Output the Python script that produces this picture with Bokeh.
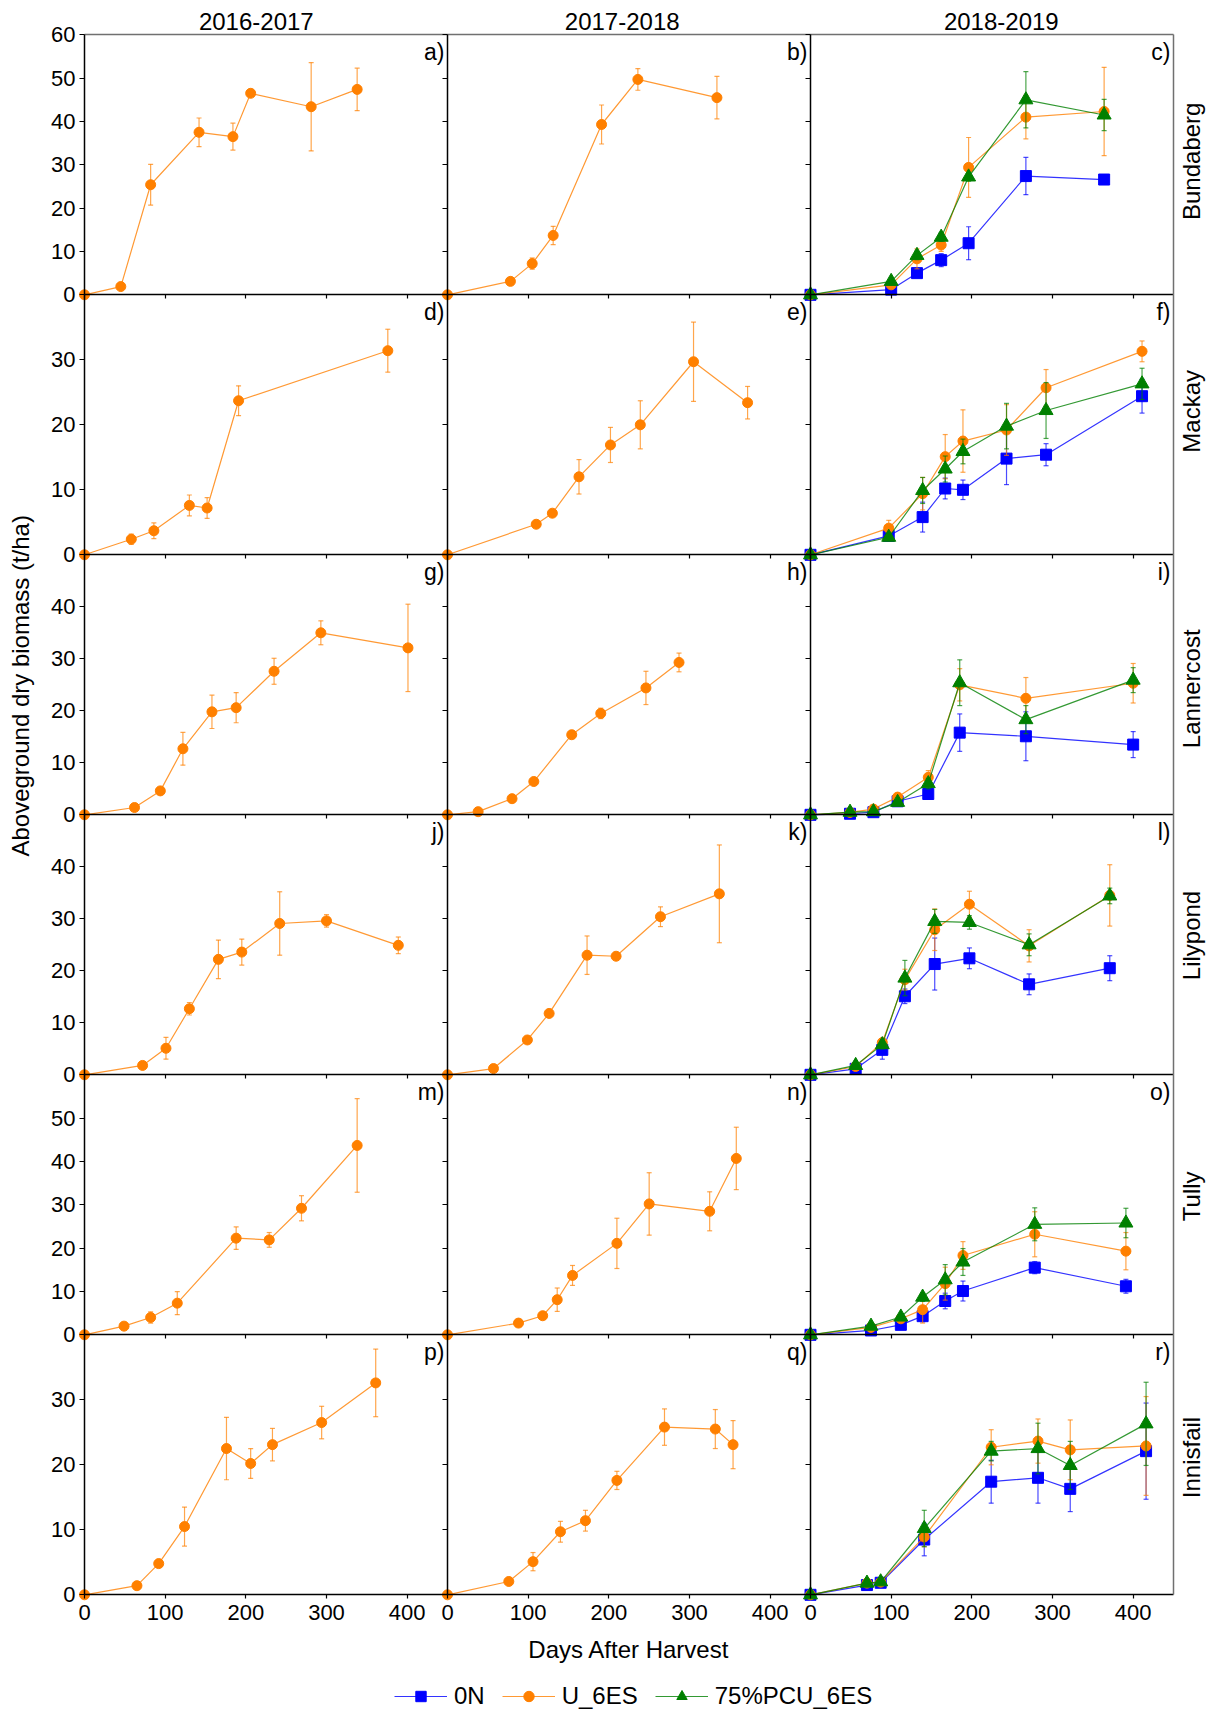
import math
from bokeh.plotting import figure
from bokeh.models import (Range1d, LinearAxis, FixedTicker, Label, Legend,
                          LegendItem, ColumnDataSource)
from bokeh.embed import file_html
from bokeh.resources import INLINE

FONT = "Liberation Sans"

# ---------------- labels / axes ----------------
seasons = ["2016-2017", "2017-2018", "2018-2019"]
sites = ["Bundaberg", "Mackay", "Lannercost", "Lilypond", "Tully", "Innisfail"]
panel_letters = ["a)", "b)", "c)", "d)", "e)", "f)", "g)", "h)", "i)",
                 "j)", "k)", "l)", "m)", "n)", "o)", "p)", "q)", "r)"]
treatments = ["0N", "U_6ES", "75%PCU_6ES"]
y_max = [60, 40, 50, 50, 60, 40]
y_ticks = [[0, 10, 20, 30, 40, 50, 60], [0, 10, 20, 30], [0, 10, 20, 30, 40],
           [0, 10, 20, 30, 40], [0, 10, 20, 30, 40, 50], [0, 10, 20, 30]]
x_max = 450
x_ticks = [0, 100, 200, 300, 400]

# ---------------- data (days after harvest, biomass t/ha, error) ----------------
# Bundaberg
a_days = [0, 45, 82, 142, 184, 206, 281, 338]
a_u = [0, 1.9, 25.4, 37.5, 36.5, 46.5, 43.4, 47.4]
a_u_err = [0, 0.3, 4.7, 3.3, 3.1, 0.5, 10.2, 4.9]

b_days = [0, 78, 105, 131, 191, 236, 334]
b_u = [0, 3.1, 7.2, 13.7, 39.3, 49.7, 45.5]
b_u_err = [0, 0.3, 1.3, 2.1, 4.5, 2.5, 4.9]

c_days = [0, 100, 132, 162, 196, 267, 364]
c_0n = [0, 1.2, 5.0, 8.0, 11.9, 27.4, 26.6]
c_0n_err = [0, 0.3, 0.5, 1.5, 3.8, 4.3, 0.5]
c_u = [0, 2.3, 8.3, 11.5, 29.4, 41.0, 42.3]
c_u_err = [0, 0.5, 2.3, 1.5, 6.9, 5.0, 10.2]
c_pcu = [0, 3.1, 9.1, 13.3, 27.2, 45.0, 41.5]
c_pcu_err = [0, 0.5, 1.0, 1.0, 1.0, 6.5, 3.6]

# Mackay
d_days = [0, 58, 86, 130, 152, 191, 376]
d_u = [0, 2.4, 3.7, 7.6, 7.2, 23.7, 31.4]
d_u_err = [0, 0.8, 1.2, 1.6, 1.6, 2.3, 3.3]

e_days = [0, 110, 130, 163, 202, 239, 305, 372]
e_u = [0, 4.7, 6.4, 12.0, 16.9, 20.0, 29.7, 23.4]
e_u_err = [0, 0.5, 0.5, 2.65, 2.7, 3.7, 6.1, 2.5]

f_days = [0, 97, 139, 167, 189, 243, 292, 411]
f_0n = [0, 2.9, 5.8, 10.2, 10.0, 14.8, 15.4, 24.4]
f_0n_err = [0, 0.4, 2.3, 1.6, 1.5, 4.0, 1.7, 2.6]
f_u = [0, 4.1, 9.4, 15.1, 17.5, 19.2, 25.7, 31.3]
f_u_err = [0, 1.2, 2.5, 3.4, 4.8, 3.9, 2.8, 1.6]
f_pcu = [0, 2.7, 9.9, 13.2, 15.9, 19.8, 22.2, 26.3]
f_pcu_err = [0, 0.5, 2.0, 2.0, 1.9, 3.5, 4.3, 2.4]

# Lannercost
g_days = [0, 62, 94, 122, 158, 188, 235, 293, 401]
g_u = [0, 1.4, 4.6, 12.7, 19.8, 20.6, 27.6, 35.0, 32.1]
g_u_err = [0, 0.3, 0.5, 3.15, 3.2, 2.9, 2.5, 2.3, 8.4]

h_days = [0, 38, 80, 107, 154, 190, 246, 287]
h_u = [0, 0.6, 3.1, 6.4, 15.4, 19.5, 24.4, 29.3]
h_u_err = [0, 0.2, 0.3, 0.4, 0.75, 1.0, 3.2, 1.8]

i_days = [0, 49, 78, 108, 146, 185, 267, 400]
i_0n = [0, 0.2, 0.5, 2.6, 4.0, 15.8, 15.1, 13.5]
i_0n_err = [0, 0.1, 0.2, 0.5, 1.0, 3.6, 4.7, 2.5]
i_u = [0, 0.45, 1.1, 3.4, 7.2, 25.0, 22.4, 25.3]
i_u_err = [0, 0.1, 0.3, 0.5, 1.3, 3.1, 4.0, 3.8]
i_pcu = [0, 0.5, 0.6, 2.4, 6.0, 25.4, 18.3, 25.9]
i_pcu_err = [0, 0.1, 0.2, 0.5, 1.0, 4.4, 2.7, 2.4]

# Lilypond
j_days = [0, 72, 101, 130, 166, 195, 242, 300, 389]
j_u = [0, 1.8, 5.1, 12.7, 22.2, 23.6, 29.1, 29.6, 24.9]
j_u_err = [0, 0.3, 2.1, 1.2, 3.7, 2.5, 6.1, 1.2, 1.6]

k_days = [0, 57, 99, 126, 173, 209, 264, 337]
k_u = [0, 1.2, 6.7, 11.8, 23.0, 22.8, 30.4, 34.8]
k_u_err = [0, 0.2, 0.3, 0.4, 3.7, 0.6, 1.9, 9.4]

l_days = [0, 56, 89, 117, 154, 197, 271, 371]
l_0n = [0, 1.15, 4.8, 15.1, 21.3, 22.4, 17.4, 20.5]
l_0n_err = [0, 0.3, 1.8, 1.4, 5.0, 2.0, 2.0, 2.4]
l_u = [0, 1.6, 6.2, 18.3, 27.9, 32.8, 24.8, 34.5]
l_u_err = [0, 0.3, 0.6, 2.0, 4.0, 2.5, 3.1, 5.9]
l_pcu = [0, 1.8, 5.8, 18.6, 29.5, 29.3, 25.0, 34.4]
l_pcu_err = [0, 0.3, 0.8, 3.4, 2.3, 1.3, 2.1, 1.5]

# Tully
m_days = [0, 49, 82, 115, 188, 229, 269, 338]
m_u = [0, 2.0, 4.0, 7.3, 22.3, 21.9, 29.2, 43.7]
m_u_err = [0, 0.3, 1.3, 2.65, 2.6, 1.7, 2.9, 10.8]

n_days = [0, 88, 118, 136, 155, 210, 250, 325, 358]
n_u = [0, 2.7, 4.4, 8.1, 13.7, 21.1, 30.2, 28.5, 40.7]
n_u_err = [0, 0.3, 0.7, 2.7, 2.3, 5.8, 7.2, 4.5, 7.2]

o_days = [0, 75, 112, 139, 167, 189, 278, 391]
o_0n = [0, 1.0, 2.3, 4.3, 7.8, 10.1, 15.5, 11.2]
o_0n_err = [0, 0.3, 0.5, 1.3, 1.8, 2.3, 1.4, 1.6]
o_u = [0, 1.7, 3.7, 5.8, 11.8, 18.3, 23.2, 19.3]
o_u_err = [0, 0.3, 0.5, 3.1, 3.8, 3.2, 5.2, 4.3]
o_pcu = [0, 2.0, 4.1, 8.7, 12.7, 16.8, 25.5, 25.8]
o_pcu_err = [0, 0.3, 0.5, 1.0, 3.5, 3.1, 3.8, 3.4]

# Innisfail
p_days = [0, 65, 92, 124, 176, 206, 233, 294, 361]
p_u = [0, 1.4, 4.8, 10.5, 22.5, 20.2, 23.1, 26.5, 32.6]
p_u_err = [0, 0.2, 0.5, 3.0, 4.8, 2.3, 2.5, 2.5, 5.2]

q_days = [0, 76, 106, 140, 171, 210, 269, 332, 354]
q_u = [0, 2.05, 5.1, 9.7, 11.4, 17.6, 25.8, 25.5, 23.1]
q_u_err = [0, 0.2, 1.4, 1.6, 1.6, 1.4, 2.8, 3.0, 3.7]

r_days = [0, 70, 87, 141, 224, 282, 322, 416]
r_0n = [0, 1.5, 1.85, 8.5, 17.4, 18.0, 16.3, 22.1]
r_0n_err = [0, 0.5, 0.3, 2.5, 3.3, 3.9, 3.5, 7.4]
r_u = [0, 1.8, 1.95, 8.9, 22.7, 23.65, 22.3, 22.9]
r_u_err = [0, 0.3, 0.3, 1.5, 2.7, 3.4, 4.6, 7.6]
r_pcu = [0, 1.8, 2.0, 10.2, 22.1, 22.5, 19.9, 26.3]
r_pcu_err = [0, 0.3, 0.3, 2.8, 1.5, 3.9, 3.7, 6.4]

panels = {
    (0, 0): {"U_6ES": (a_days, a_u, a_u_err)},
    (0, 1): {"U_6ES": (b_days, b_u, b_u_err)},
    (0, 2): {"0N": (c_days, c_0n, c_0n_err), "U_6ES": (c_days, c_u, c_u_err),
             "75%PCU_6ES": (c_days, c_pcu, c_pcu_err)},
    (1, 0): {"U_6ES": (d_days, d_u, d_u_err)},
    (1, 1): {"U_6ES": (e_days, e_u, e_u_err)},
    (1, 2): {"0N": (f_days, f_0n, f_0n_err), "U_6ES": (f_days, f_u, f_u_err),
             "75%PCU_6ES": (f_days, f_pcu, f_pcu_err)},
    (2, 0): {"U_6ES": (g_days, g_u, g_u_err)},
    (2, 1): {"U_6ES": (h_days, h_u, h_u_err)},
    (2, 2): {"0N": (i_days, i_0n, i_0n_err), "U_6ES": (i_days, i_u, i_u_err),
             "75%PCU_6ES": (i_days, i_pcu, i_pcu_err)},
    (3, 0): {"U_6ES": (j_days, j_u, j_u_err)},
    (3, 1): {"U_6ES": (k_days, k_u, k_u_err)},
    (3, 2): {"0N": (l_days, l_0n, l_0n_err), "U_6ES": (l_days, l_u, l_u_err),
             "75%PCU_6ES": (l_days, l_pcu, l_pcu_err)},
    (4, 0): {"U_6ES": (m_days, m_u, m_u_err)},
    (4, 1): {"U_6ES": (n_days, n_u, n_u_err)},
    (4, 2): {"0N": (o_days, o_0n, o_0n_err), "U_6ES": (o_days, o_u, o_u_err),
             "75%PCU_6ES": (o_days, o_pcu, o_pcu_err)},
    (5, 0): {"U_6ES": (p_days, p_u, p_u_err)},
    (5, 1): {"U_6ES": (q_days, q_u, q_u_err)},
    (5, 2): {"0N": (r_days, r_0n, r_0n_err), "U_6ES": (r_days, r_u, r_u_err),
             "75%PCU_6ES": (r_days, r_pcu, r_pcu_err)},
}

# ---------------- styling ----------------
styles = {
    "0N": dict(color="#0000FF", marker="square", size=11),
    "U_6ES": dict(color="#FF8000", marker="circle", size=10),
    "75%PCU_6ES": dict(color="#008000", marker="triangle", size=14),
}

W, H = 1211, 1711                 # canvas (the frame fills it entirely)
NROWS, NCOLS = 6, 3
PW, PH = 363, 260                 # one panel in pixels
FW, FH = PW * NCOLS, PH * NROWS   # panel grid
GX0, GY0 = 84, 116.7              # grid's bottom-left corner (px from canvas bottom-left)

p = figure(width=W, height=H,
           x_range=Range1d(0, W), y_range=Range1d(0, H),
           x_axis_location=None, y_axis_location=None,
           toolbar_location=None, output_backend="svg",
           min_border_left=0, min_border_right=0,
           min_border_top=0, min_border_bottom=0)
p.title.visible = False
p.grid.visible = False
p.outline_line_color = None
p.background_fill_color = "white"
p.border_fill_color = "white"

# one named x range per column and one named y range per row, so that each
# panel's data maps into its own cell of the grid
xr = {}
for c in range(NCOLS):
    k = x_max / PW
    start = -(GX0 + PW * c) * k
    xr[f"x{c}"] = Range1d(start, start + W * k)
yr = {}
for r in range(NROWS):
    k = y_max[r] / PH
    start = -(GY0 + PH * (NROWS - 1 - r)) * k
    yr[f"y{r}"] = Range1d(start, start + H * k)
p.extra_x_ranges = xr
p.extra_y_ranges = yr


def style_axis(ax, ticks, show_labels, color="black", standoff=4):
    ax.axis_line_color = color
    ax.axis_line_width = 1.5
    ax.major_tick_line_color = "black"
    ax.major_tick_line_width = 1.2
    ax.major_tick_out = 5
    ax.major_tick_in = 0
    ax.minor_tick_out = 0
    ax.minor_tick_in = 0
    ax.major_label_text_font = FONT
    ax.major_label_text_font_size = "22px"
    ax.major_label_text_color = "black"
    ax.major_label_standoff = standoff
    if not show_labels:
        ax.major_label_overrides = {t: "" for t in ticks}


for r in range(NROWS):
    for c in range(NCOLS):
        xa = LinearAxis(x_range_name=f"x{c}", y_range_name=f"y{r}", fixed_location=0,
                        bounds=(0, x_max), ticker=FixedTicker(ticks=x_ticks))
        style_axis(xa, x_ticks, r == NROWS - 1, standoff=6)
        xa.major_tick_out = 4
        p.add_layout(xa, "below")
        ya = LinearAxis(x_range_name=f"x{c}", y_range_name=f"y{r}", fixed_location=0,
                        bounds=(0, y_max[r]), ticker=FixedTicker(ticks=y_ticks[r]))
        style_axis(ya, y_ticks[r], c == 0)
        p.add_layout(ya, "left")

# grey top and right borders of the grid
for c in range(NCOLS):
    ta = LinearAxis(x_range_name=f"x{c}", y_range_name="y0", fixed_location=y_max[0],
                    bounds=(0, x_max), ticker=FixedTicker(ticks=[]))
    style_axis(ta, [], True, color="#707070")
    p.add_layout(ta, "above")
for r in range(NROWS):
    ra = LinearAxis(x_range_name=f"x{NCOLS - 1}", y_range_name=f"y{r}", fixed_location=x_max,
                    bounds=(0, y_max[r]), ticker=FixedTicker(ticks=[]))
    style_axis(ra, [], True, color="#707070")
    p.add_layout(ra, "right")

legend_renderers = {}
for (r, c), series in panels.items():
    for t in treatments:
        if t not in series:
            continue
        days, mean, err = series[t]
        st = styles[t]
        src = ColumnDataSource(dict(
            x=days, y=mean,
            lo=[m - e for m, e in zip(mean, err)],
            hi=[m + e for m, e in zip(mean, err)]))
        kw = dict(source=src, x_range_name=f"x{c}", y_range_name=f"y{r}")
        p.segment(x0="x", y0="lo", x1="x", y1="hi", line_color=st["color"],
                  line_alpha=0.7, line_width=1.2, **kw)
        p.scatter(x="x", y="lo", marker="dash", size=5, line_color=st["color"],
                  line_alpha=0.7, line_width=1.2, **kw)
        p.scatter(x="x", y="hi", marker="dash", size=5, line_color=st["color"],
                  line_alpha=0.7, line_width=1.2, **kw)
        ln = p.line(x="x", y="y", line_color=st["color"], line_alpha=0.8,
                    line_width=1.2, **kw)
        pts = p.scatter(x="x", y="y", marker=st["marker"], size=st["size"],
                        fill_color=st["color"], line_color=st["color"], **kw)
        if (r, c) == (0, NCOLS - 1):
            legend_renderers[t] = [ln, pts]

# ---------------- text ----------------
title_offsets = [-9.7, -6.8, 9.3]
for c, s in enumerate(seasons):
    p.add_layout(Label(x=GX0 + PW * c + PW / 2 + title_offsets[c], y=GY0 + FH + 13.5,
                       text=s, text_font=FONT, text_font_size="24px",
                       text_align="center", text_baseline="alphabetic",
                       text_color="black"))

site_offsets = [3.5, 13.5, -4.0, 9.3, 8.5, 7.3]
for r, s in enumerate(sites):
    p.add_layout(Label(x=GX0 + FW + 18, y=GY0 + FH - PH * r - PH / 2 + site_offsets[r],
                       text=s, angle=math.pi / 2, text_font=FONT,
                       text_font_size="24px", text_align="center",
                       text_baseline="alphabetic", text_color="black"))

for r in range(NROWS):
    for c in range(NCOLS):
        p.add_layout(Label(x=GX0 + PW * (c + 1) - 3, y=GY0 + FH - PH * r - 17,
                           text=panel_letters[r * NCOLS + c], text_font=FONT,
                           text_font_size="23px", text_align="right",
                           text_baseline="alphabetic", text_color="black"))

p.add_layout(Label(x=GX0 - 64, y=GY0 + 909, text="Aboveground dry biomass (t/ha)",
                   angle=math.pi / 2, text_font=FONT, text_font_size="24px",
                   text_align="center", text_baseline="alphabetic", text_color="black"))
p.add_layout(Label(x=GX0 + PW * 1.5, y=GY0 - 54.4, text="Days After Harvest",
                   text_font=FONT, text_font_size="24px", text_align="center",
                   text_baseline="alphabetic", text_color="black"))

legend = Legend(
    items=[LegendItem(label=t, renderers=legend_renderers[t]) for t in treatments],
    orientation="horizontal", location=(GX0 + 310, 1),
    border_line_color=None, background_fill_alpha=0,
    label_text_font=FONT, label_text_font_size="24px", label_text_color="black",
    glyph_width=53, glyph_height=26, label_standoff=7, spacing=17,
    padding=0, margin=0)
p.add_layout(legend)

open("out.html", "w").write(file_html(p, INLINE))
